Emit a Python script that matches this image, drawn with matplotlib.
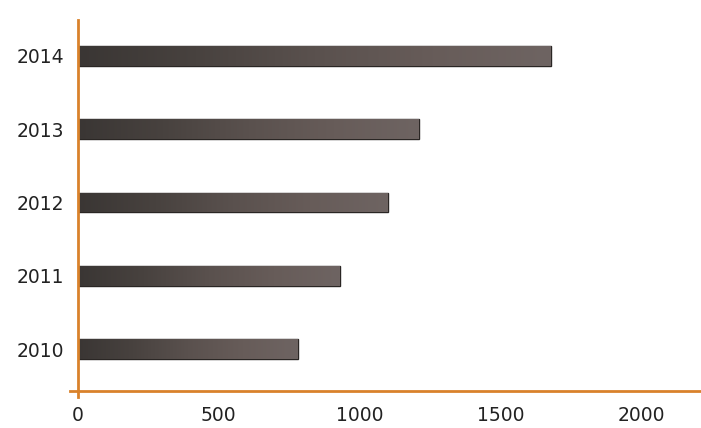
import matplotlib.pyplot as plt
import numpy as np
from matplotlib.colors import LinearSegmentedColormap

years = ['2010', '2011', '2012', '2013', '2014']
values = [780, 930, 1100, 1210, 1680]
xticks = [0, 500, 1000, 1500, 2000]

orange = '#d9822b'
bar_cmap = LinearSegmentedColormap.from_list('bar', ['#3a3634', '#48423f', '#5a514e', '#675c59', '#6e6462'])

fig = plt.figure(figsize=(7.01, 4.28), dpi=100)
ax = fig.add_axes([0.1113, 0.0864, 0.8887, 0.8668])

ypos = np.arange(len(years))
bars = ax.barh(ypos, values, height=0.27, color='#4d4542', edgecolor='#2a2624', linewidth=1.0, zorder=2)

# horizontal gradient clipped to each bar
grad = np.linspace(0, 1, 256).reshape(1, -1)
for b in bars:
    x0, y0 = b.get_x(), b.get_y()
    w, h = b.get_width(), b.get_height()
    im = ax.imshow(grad, cmap=bar_cmap, aspect='auto', extent=[x0, x0 + w, y0, y0 + h], zorder=2.5)
    im.set_clip_path(b)

ax.set_xlim(0, 2213)
ax.set_ylim(-0.57, 4.49)
ax.set_yticks(ypos)
ax.set_yticklabels(years)
ax.set_xticks(xticks)

for s in ['top', 'right']:
    ax.spines[s].set_visible(False)
for s in ['left', 'bottom']:
    ax.spines[s].set_color(orange)
    ax.spines[s].set_linewidth(2)

# small overhang where the two axes cross
ax.plot([-30, 0], [-0.57, -0.57], color=orange, lw=2, clip_on=False, zorder=3)
ax.plot([0, 0], [-0.57, -0.65], color=orange, lw=2, clip_on=False, zorder=3)

ax.tick_params(axis='y', length=0, pad=10, labelsize=13.5, labelcolor='#222222')
ax.tick_params(axis='x', length=0, pad=11, labelsize=13.5, labelcolor='#222222')

fig.savefig('out.png', dpi=100)
